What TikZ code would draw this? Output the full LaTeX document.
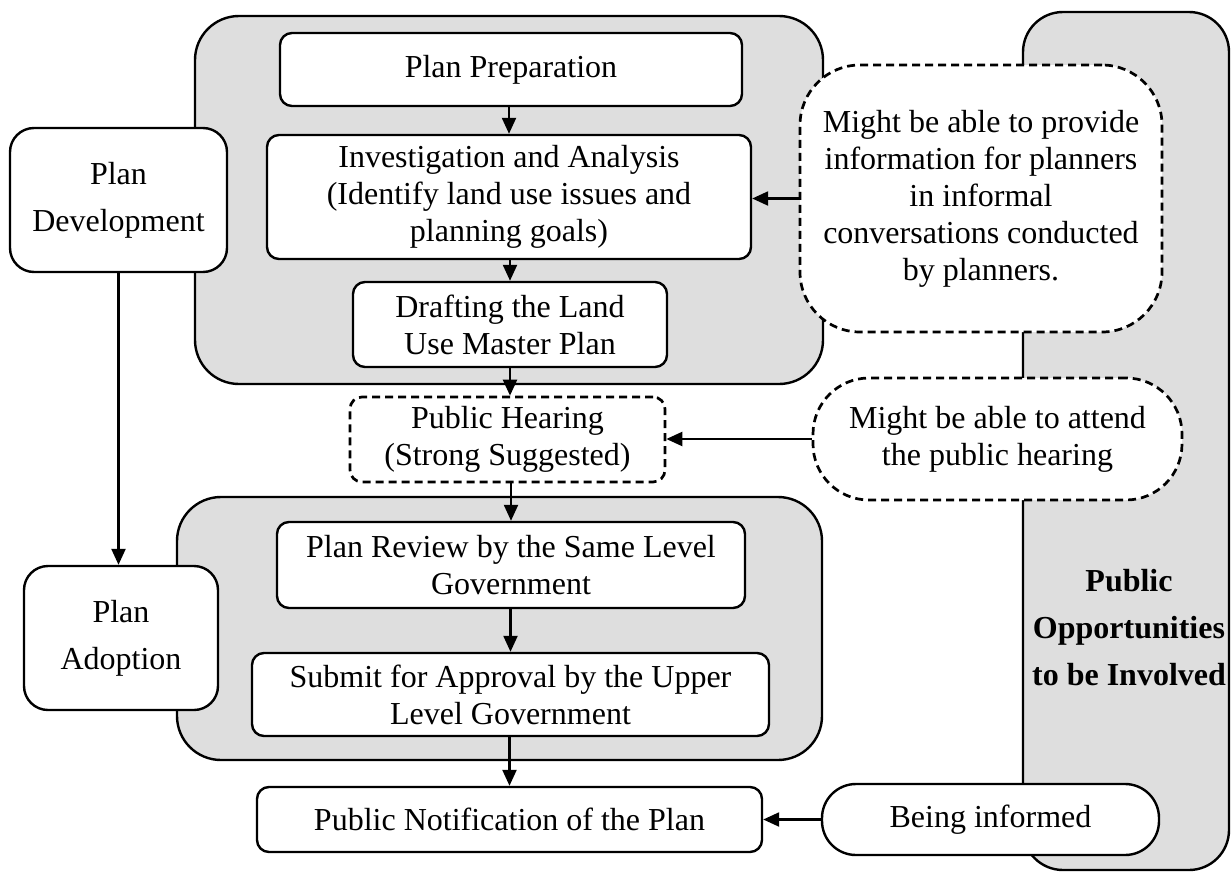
\documentclass[tikz,border=0pt]{standalone}
\usepackage{fontspec}
\setmainfont{Liberation Serif}
\usetikzlibrary{arrows.meta}
\begin{document}
\begin{tikzpicture}[x=0.5pt,y=-0.5pt,
  every node/.style={font=\fontsize{16}{18.5}\selectfont, align=center, inner sep=0pt},
  box/.style={draw, line width=1.2pt, fill=white, rounded corners=6pt},
  dbox/.style={box, line width=1.35pt, dash pattern=on 4pt off 2.5pt},
  phase/.style={box, rounded corners=12pt, font=\fontsize{16}{23.5}\selectfont},
  panel/.style={draw, line width=1.2pt, fill=black!13, rounded corners=22pt},
  flow/.style={line width=1.15pt, -{Triangle[length=8pt,width=7pt]}},
]
\useasboundingbox (0,0) rectangle (1231,878);

% shaded panels
\draw[panel, rounded corners=20pt] (1023,12) rectangle (1229,870);
\draw[panel] (195,16) rectangle (823,384);
\draw[panel] (177,497) rectangle (822,760);

% phase labels
\node[phase, minimum width=108.5pt, minimum height=72pt] (dev) at (118.5,200) {Plan\\Development};
\node[phase, minimum width=97pt, minimum height=72pt] (adopt) at (121,638) {Plan\\Adoption};

% main steps
\node[box, minimum width=231pt, minimum height=36.5pt] (prep) at (511,69.5) {Plan Preparation};
\node[box, minimum width=242pt, minimum height=62pt] (inv) at (509,197) {Investigation and Analysis\\(Identify land use issues and\\planning goals)};
\node[box, minimum width=157pt, minimum height=42.5pt] (draft) at (510,324.5) {Drafting the Land\\Use Master Plan};
\node[dbox, minimum width=157.5pt, minimum height=42.5pt] (hear) at (507.5,439.5) {Public Hearing\\(Strong Suggested)};
\node[box, minimum width=234pt, minimum height=43pt] (review) at (511,565) {Plan Review by the Same Level\\Government};
\node[box, minimum width=258.5pt, minimum height=41.5pt] (submit) at (510.5,694.5) {Submit for Approval by the Upper\\Level Government};
\node[box, minimum width=252.5pt, minimum height=32.5pt] (notify) at (509.5,819.5) {Public Notification of the Plan};

% public involvement
\node[dbox, rounded corners=30pt, minimum width=181pt, minimum height=133.5pt] (inform) at (981,198.5) {Might be able to provide\\information for planners\\in informal\\conversations conducted\\by planners.};
\node[dbox, rounded corners=28pt, minimum width=184.5pt, minimum height=61pt] (attend) at (997.5,439) {Might be able to attend\\the public hearing};
\node[box, rounded corners=17pt, minimum width=168.5pt, minimum height=35.5pt] (told) at (990.5,819.5) {Being informed};
\node[font=\bfseries\fontsize{16}{23.5}\selectfont] (public) at (1129,628) {Public\\Opportunities\\to be Involved};

% connectors
\draw[flow] (dev.south) -- (dev.south |- adopt.north);
\draw[flow] (prep.south -| inv.north) -- (inv.north);
\draw[flow] (inv.south -| draft.north) -- (draft.north);
\draw[flow] (draft.south) -- (draft.south |- hear.north);
\draw[flow] (hear.south -| review.north) -- (review.north);
\draw[flow] (review.south -| submit.north) -- (submit.north);
\draw[flow] (submit.south -| notify.north) -- (notify.north);
\draw[flow] (inform.west) -- (inform.west -| inv.east);
\draw[flow] (attend.west) -- (attend.west -| hear.east);
\draw[flow] (told.west) -- (told.west -| notify.east);
\end{tikzpicture}
\end{document}
